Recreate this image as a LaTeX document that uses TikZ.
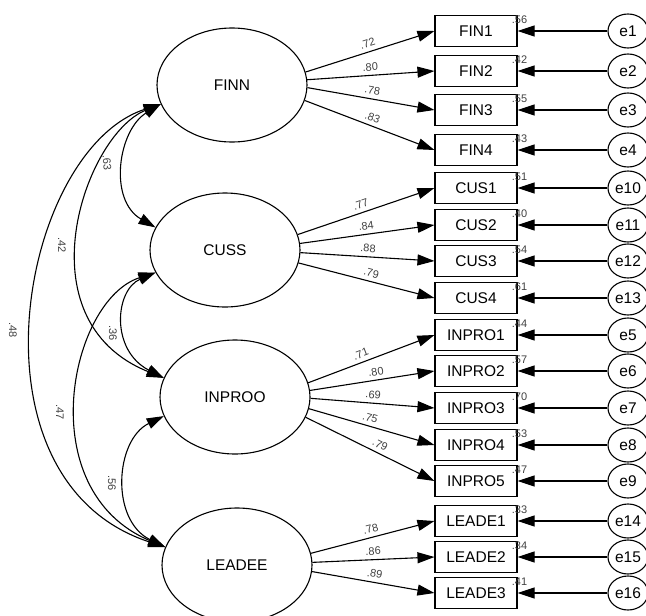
\documentclass[tikz,border=0pt]{standalone}
\usepackage{fontspec}
\setmainfont{Liberation Sans}
\usetikzlibrary{shapes.geometric,arrows.meta}
\begin{document}
\begin{tikzpicture}[x=1pt,y=-1pt,
  line width=1.1pt,
  latent/.style={draw, ellipse, minimum width=150pt, minimum height=114pt, inner sep=0pt, font=\fontsize{15.5}{18}\selectfont},
  observed/.style={draw, rectangle, minimum width=82pt, minimum height=31pt, inner sep=0pt, font=\fontsize{15.5}{18}\selectfont},
  errterm/.style={draw, ellipse, minimum width=40pt, minimum height=34pt, inner sep=0pt, font=\fontsize{15.5}{18}\selectfont},
  coef/.style={font=\fontsize{11}{12}\selectfont, text=black!75, inner sep=0pt},
  loading/.style={-{Triangle[length=17pt,width=11pt]}},
  covar/.style={{Triangle[length=17pt,width=11pt]}-{Triangle[length=17pt,width=11pt]}},
]
\useasboundingbox (0,0) rectangle (646,616);

% latent factors
\node[latent] (FINN)   at (232,85)  {FINN};
\node[latent] (CUSS)   at (225,250) {CUSS};
\node[latent] (INPROO) at (235,397) {INPROO};
\node[latent] (LEADEE) at (237,565) {LEADEE};

% indicators and their error terms
\foreach \n/\y/\e in {FIN1/31/e1, FIN2/71/e2, FIN3/110/e3, FIN4/150/e4,
                      CUS1/188/e10, CUS2/225/e11, CUS3/261/e12, CUS4/298/e13,
                      INPRO1/335/e5, INPRO2/371/e6, INPRO3/408/e7, INPRO4/445/e8, INPRO5/481/e9,
                      LEADE1/521/e14, LEADE2/557/e15, LEADE3/593/e16}{
  \node[observed] (\n) at (476,\y) {\n};
  \node[errterm] (\e) at (628,\y) {\e};
  \draw[loading] (\e) -- (\n);
}

% squared multiple correlations
\foreach \n/\v in {FIN1/.56, FIN2/.42, FIN3/.55, FIN4/.43,
                   CUS1/.51, CUS2/.40, CUS3/.54, CUS4/.61,
                   INPRO1/.44, INPRO2/.57, INPRO3/.70, INPRO4/.53, INPRO5/.47,
                   LEADE1/.33, LEADE2/.34, LEADE3/.41}{
  \node[coef] (r2\n) at ([xshift=2pt,yshift=-5pt]\n.north east) {\v};
}

% factor loadings (start angle on the factor, label position along the path)
\foreach \f/\n/\a/\p/\v in {FINN/FIN1/10/0.5/.72, FINN/FIN2/4/0.5/.80, FINN/FIN3/-2/0.5/.78, FINN/FIN4/-12/0.5/.83,
                         CUSS/CUS1/12/0.48/.77, CUSS/CUS2/5/0.5/.84, CUSS/CUS3/-2/0.5/.88, CUSS/CUS4/-10/0.52/.79,
                         INPROO/INPRO1/11/0.44/.71, INPROO/INPRO2/5/0.54/.80, INPROO/INPRO3/-1/0.5/.69, INPROO/INPRO4/-9/0.47/.75, INPROO/INPRO5/-16/0.55/.79,
                         LEADEE/LEADE1/9/0.5/.78, LEADEE/LEADE2/2/0.5/.86, LEADEE/LEADE3/-5/0.5/.89}{
  \draw[loading] (\f.\a) -- node[coef, pos=\p, above=4pt, sloped] (w\n) {\v} (\n.west);
}

% factor covariances
\draw[covar] (FINN.195) .. controls (118,130) and (108,200) .. (CUSS.162);
\draw[covar] (FINN.195) .. controls (85,135) and (20,320) .. (INPROO.165);
\draw[covar] (FINN.195) .. controls (20,150) and (-40,480) .. (LEADEE.166);
\draw[covar] (CUSS.198) .. controls (115,290) and (110,350) .. (INPROO.165);
\draw[covar] (CUSS.198) .. controls (70,300) and (30,490) .. (LEADEE.166);
\draw[covar] (INPROO.195) .. controls (115,440) and (110,520) .. (LEADEE.166);

\node[coef, rotate=-85] (cFC) at (107,163) {.63};
\node[coef, rotate=-90] (cFI) at (62,245)  {.42};
\node[coef, rotate=-90] (cFL) at (13,330)  {.48};
\node[coef, rotate=-90] (cCI) at (113,333) {.36};
\node[coef, rotate=-90] (cCL) at (60,412)  {.47};
\node[coef, rotate=-90] (cIL) at (112,483) {.56};
\end{tikzpicture}
\end{document}
